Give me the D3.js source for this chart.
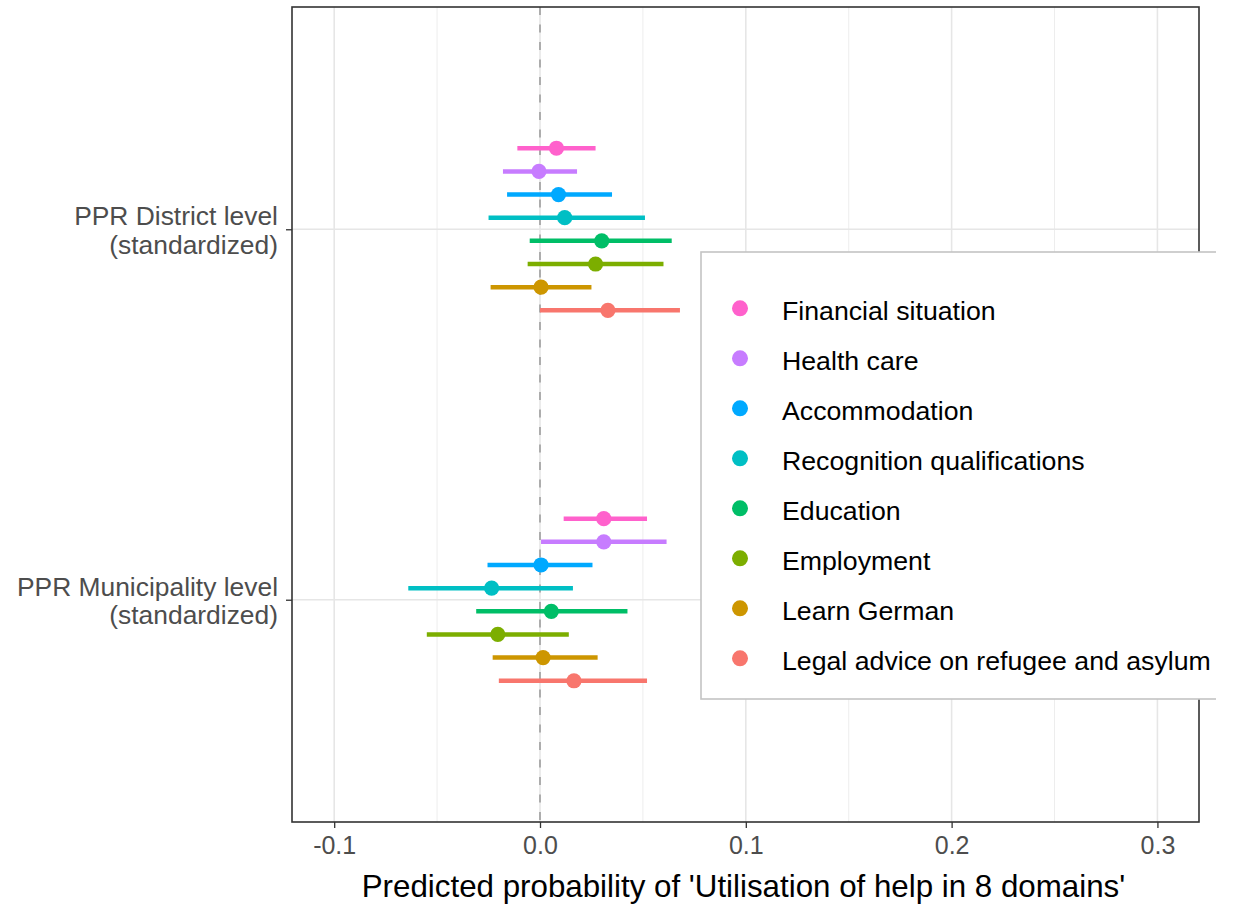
<!DOCTYPE html>
<html>
<head>
<meta charset="utf-8">
<script src="https://cdn.jsdelivr.net/npm/d3@7"></script>
<style>
  html, body { margin: 0; padding: 0; background: #fff; }
  svg { display: block; }
  text { font-family: "Liberation Sans", Arial, sans-serif; }
</style>
</head>
<body>
<svg id="chart" width="1238" height="906"></svg>
<script>
// ---- Data ----
const levels = ["PPR District level\n(standardized)", "PPR Municipality level\n(standardized)"];
const domains = ["Financial situation", "Health care", "Accommodation", "Recognition qualifications",
                 "Education", "Employment", "Learn German", "Legal advice on refugee and asylum"];
const colors = ["#FF61CC", "#C77CFF", "#00A9FF", "#00BFC4", "#00BE67", "#7CAE00", "#CD9600", "#F8766D"];

const districtEst = [0.008, -0.0005, 0.009, 0.012, 0.030, 0.027, 0.0005, 0.033];
const districtLo  = [-0.011, -0.018, -0.016, -0.025, -0.005, -0.006, -0.024, 0.000];
const districtHi  = [0.027, 0.018, 0.035, 0.051, 0.064, 0.060, 0.025, 0.068];

const muniEst = [0.031, 0.031, 0.0005, -0.0235, 0.0055, -0.0205, 0.0015, 0.0165];
const muniLo  = [0.0115, 0.0005, -0.0255, -0.064, -0.031, -0.055, -0.023, -0.020];
const muniHi  = [0.052, 0.0615, 0.0255, 0.016, 0.0425, 0.014, 0.028, 0.052];

const xTicks = [-0.1, 0.0, 0.1, 0.2, 0.3];
const xMinor = [-0.05, 0.05, 0.15, 0.25];
const xTitle = "Predicted probability of 'Utilisation of help in 8 domains'";

// ---- Build table ----
const rows = [];
domains.forEach((d, i) => {
  rows.push({level: levels[0], domain: d, i, est: districtEst[i], lo: districtLo[i], hi: districtHi[i]});
  rows.push({level: levels[1], domain: d, i, est: muniEst[i], lo: muniLo[i], hi: muniHi[i]});
});

// ---- Layout ----
const svg = d3.select("#chart");
const panel = {left: 292, right: 1199, top: 7, bottom: 822};

const x = d3.scaleLinear().domain([-0.1205, 0.3202]).range([panel.left, panel.right]);
const y = d3.scalePoint().domain(levels).range([panel.top, panel.bottom]).padding(0.6);
const dodge = d3.scaleBand().domain(domains).range([-0.25, 0.25]);
const step = y.step();
const yPos = r => y(r.level) + (dodge(r.domain) + dodge.bandwidth() / 2) * step;
const color = d3.scaleOrdinal().domain(domains).range(colors);

// background
svg.append("rect").attr("x", panel.left).attr("y", panel.top)
  .attr("width", panel.right - panel.left).attr("height", panel.bottom - panel.top)
  .attr("fill", "#fff");

// grid
const grid = svg.append("g");
grid.selectAll(".minor").data(xMinor).join("line")
  .attr("x1", d => x(d)).attr("x2", d => x(d))
  .attr("y1", panel.top).attr("y2", panel.bottom)
  .attr("stroke", "#EBEBEB").attr("stroke-width", 0.9);
grid.selectAll(".major").data(xTicks).join("line")
  .attr("x1", d => x(d)).attr("x2", d => x(d))
  .attr("y1", panel.top).attr("y2", panel.bottom)
  .attr("stroke", "#E6E6E6").attr("stroke-width", 1.6);
grid.selectAll(".hmajor").data(levels).join("line")
  .attr("x1", panel.left).attr("x2", panel.right)
  .attr("y1", d => y(d)).attr("y2", d => y(d))
  .attr("stroke", "#E6E6E6").attr("stroke-width", 1.6);

// zero reference line
svg.append("line")
  .attr("x1", x(0)).attr("x2", x(0))
  .attr("y1", panel.top).attr("y2", panel.bottom)
  .attr("stroke", "#8C8C8C").attr("stroke-width", 1.3)
  .attr("stroke-dasharray", "8,9.5");

// ranges
svg.append("g").selectAll("line").data(rows).join("line")
  .attr("x1", d => x(d.lo)).attr("x2", d => x(d.hi))
  .attr("y1", yPos).attr("y2", yPos)
  .attr("stroke", d => color(d.domain)).attr("stroke-width", 4.5);

// points
svg.append("g").selectAll("circle").data(rows).join("circle")
  .attr("cx", d => x(d.est)).attr("cy", yPos).attr("r", 7.6)
  .attr("fill", d => color(d.domain));

// panel border
svg.append("rect").attr("x", panel.left).attr("y", panel.top)
  .attr("width", panel.right - panel.left).attr("height", panel.bottom - panel.top)
  .attr("fill", "none").attr("stroke", "#333333").attr("stroke-width", 1.6);

// x axis
const xAxis = d3.axisBottom(x).tickValues(xTicks).tickFormat(d3.format(".1f")).tickSize(6).tickPadding(8);
const gx = svg.append("g").attr("transform", `translate(0,${panel.bottom})`).call(xAxis);
gx.select(".domain").remove();
gx.selectAll(".tick line").attr("stroke", "#333333").attr("stroke-width", 1.3);
gx.selectAll(".tick text").attr("fill", "#4D4D4D").style("font-size", "25px")
  .style("font-family", '"Liberation Sans", Arial, sans-serif')
  .text(d => d3.format(".1f")(d).replace("−", "-"));

// y axis
const yAxis = d3.axisLeft(y).tickSize(6).tickFormat("");
const gy = svg.append("g").attr("transform", `translate(${panel.left},0)`).call(yAxis);
gy.select(".domain").remove();
gy.selectAll(".tick line").attr("stroke", "#333333").attr("stroke-width", 1.3);

const ylab = svg.append("g").selectAll("text").data(levels).join("text")
  .attr("text-anchor", "end").attr("fill", "#4D4D4D").style("font-size", "26.4px")
  .attr("transform", d => `translate(278,${y(d)})`);
ylab.each(function(d) {
  const parts = d.split("\n");
  d3.select(this).selectAll("tspan").data(parts).join("tspan")
    .attr("x", 0).attr("y", (p, k) => k === 0 ? -4 : 24.5).text(p => p);
});

// x title
svg.append("text").attr("x", (panel.left + panel.right) / 2 - 2).attr("y", 897)
  .attr("text-anchor", "middle").attr("fill", "#000").style("font-size", "31.3px")
  .text(xTitle);

// legend
const clip = svg.append("clipPath").attr("id", "legclip");
clip.append("rect").attr("x", 0).attr("y", 0).attr("width", 1216).attr("height", 906);
const leg = svg.append("g").attr("clip-path", "url(#legclip)");
leg.append("rect").attr("x", 701).attr("y", 252).attr("width", 560).attr("height", 447)
  .attr("fill", "#fff").attr("stroke", "#C4C4C4").attr("stroke-width", 1.6);
const legY = d3.scalePoint().domain(domains).range([308.3, 658.3]);
const items = leg.selectAll(".item").data(domains).join("g")
  .attr("transform", d => `translate(0,${legY(d)})`);
items.append("circle").attr("cx", 740).attr("cy", 0).attr("r", 8).attr("fill", d => color(d));
items.append("text").attr("x", 782).attr("y", 12).attr("fill", "#000")
  .style("font-size", "26.7px").text(d => d);
</script>
</body>
</html>
